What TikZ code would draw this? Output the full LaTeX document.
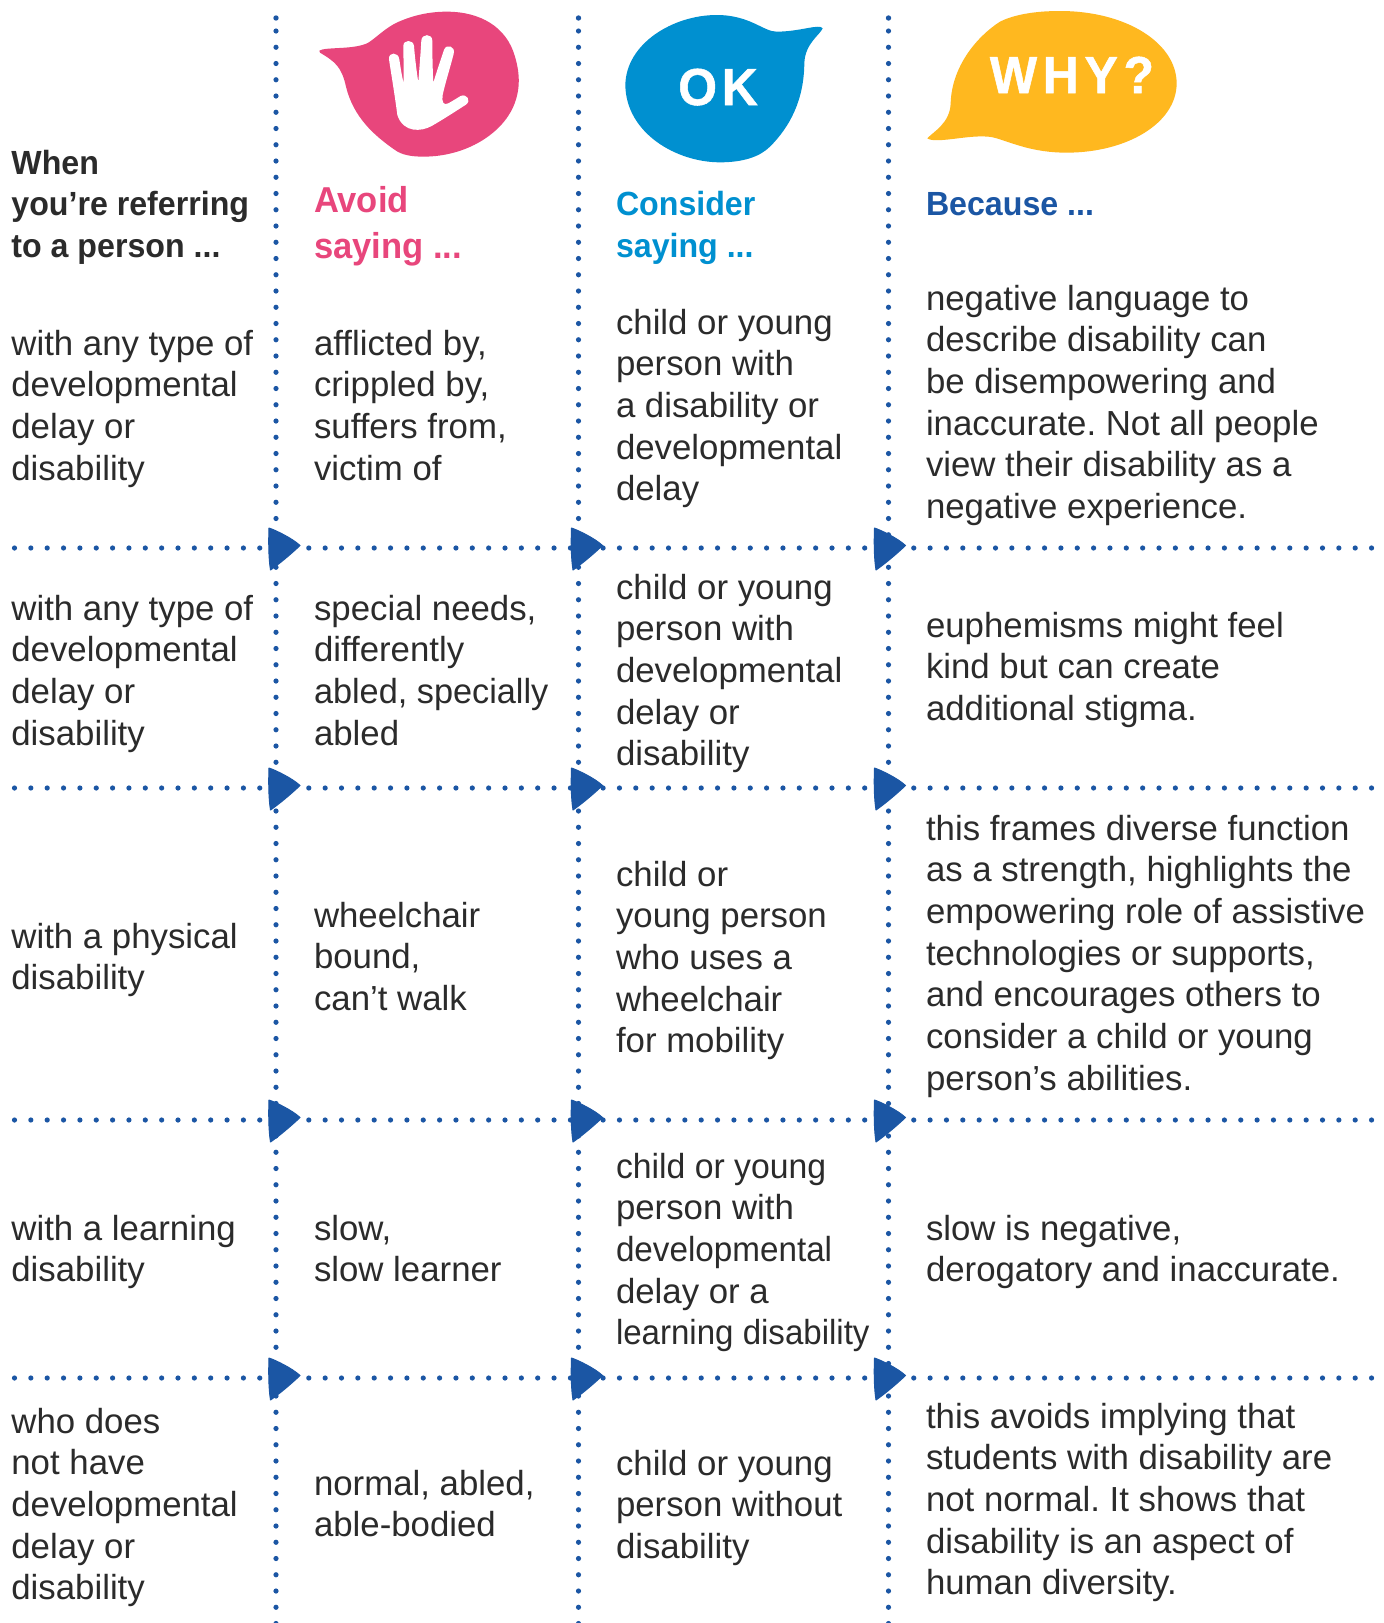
\documentclass[tikz,border=0pt]{standalone}
\usepackage{fontspec}
\setmainfont{Liberation Sans}[BoldFeatures={FakeStretch=0.96}]
\frenchspacing
\definecolor{dotblue}{HTML}{1B56A4}
\definecolor{pinkc}{HTML}{E8467C}
\definecolor{okblue}{HTML}{0090D0}
\definecolor{whyyel}{HTML}{FFB81F}
\definecolor{ink}{HTML}{2B2B2B}
\newcommand{\bigsize}{\fontsize{34.8}{41.7}\selectfont}
\newcommand{\headsize}{\fontsize{33.5}{41.7}\selectfont\bfseries}
\newcommand{\pinksize}{\fontsize{36}{46}\selectfont\bfseries}
\tikzset{
  txt/.style={anchor=base west,inner sep=0pt,outer sep=0pt,align=left,text=ink,font=\bigsize},
  headtxt/.style={txt,font=\headsize},
  nl/.style={yshift=-#1*41.7pt},
  vdots/.style={draw=dotblue,line width=5.2pt,line cap=round,dash pattern=on 0pt off 16.25pt},
  hdots/.style={draw=dotblue,line width=5.2pt,line cap=round,dash pattern=on 0pt off 16.35pt},
  arrowmark/.style={fill=dotblue,draw=dotblue,line width=1pt,line join=round},
  bubbletxt/.style={anchor=base,inner sep=0pt,text=white,font=\fontsize{52}{52}\selectfont\bfseries}
}
\begin{document}
\frenchspacing
\begin{tikzpicture}[x=1pt,y=-1pt]
\useasboundingbox (0,0) rectangle (1384,1623);
\fill[white] (0,0) rectangle (1384,1623);
% dotted grid
\foreach \xx in {276,578.5,888.5}{
  \draw[vdots] (\xx,31) -- (\xx,1625);
  \fill[dotblue] (\xx,18) circle (2.7pt);
}
\foreach \yy in {548,788,1120,1378}{
  \draw[hdots] (14.5,\yy) -- (1375,\yy);
}
% arrowheads
\foreach \xx in {276,578.5,881.5}{
  \foreach \yy in {548,788,1120,1378}{
    \filldraw[arrowmark,shift={(\xx,\yy)}] (-7,-20) .. controls (-1,-18) and (16,-10) .. (24,-2.5)
      .. controls (14,7) and (3,16) .. (-5.5,22) .. controls (-7.5,10) and (-7.5,-8) .. cycle;
  }
}
% pink bubble
\begin{scope}[shift={(280,0)},x=0.3333pt,y=-0.3333pt]
\fill[pinkc] (118,152) .. controls (135,140) and (225,150) .. (265,128) .. controls (290,112) and (315,85) .. (350,68)
 .. controls (400,45) and (450,35) .. (500,35) .. controls (600,35) and (680,80) .. (705,170)
 .. controls (720,220) and (722,270) .. (700,320) .. controls (665,400) and (560,470) .. (430,470)
 .. controls (395,470) and (365,465) .. (345,450) .. controls (280,405) and (220,350) .. (198,260)
 .. controls (185,200) and (165,185) .. (120,158) -- cycle;
\fill[white] (352,345) .. controls (345,290) and (335,230) .. (327,178)
 .. controls (325,155) and (355,155) .. (358,178) .. controls (362,205) and (366,230) .. (371,250)
 .. controls (372,210) and (370,170) .. (370,138) .. controls (370,118) and (400,118) .. (402,138)
 .. controls (405,175) and (410,215) .. (415,247) .. controls (418,205) and (422,160) .. (424,122)
 .. controls (425,100) and (457,100) .. (457,122) .. controls (457,165) and (458,210) .. (460,248)
 .. controls (470,215) and (482,180) .. (492,150) .. controls (498,130) and (528,138) .. (521,162)
 .. controls (510,205) and (497,245) .. (488,285) .. controls (485,305) and (490,318) .. (505,310)
 .. controls (518,303) and (530,295) .. (542,288) .. controls (560,280) and (575,302) .. (558,314)
 .. controls (525,335) and (490,358) .. (455,378) .. controls (425,395) and (370,400) .. (352,345) -- cycle;
\end{scope}
% OK bubble
\begin{scope}[shift={(600,0)},x=0.3333pt,y=-0.3333pt]
\fill[okblue] (668,85) .. controls (660,70) and (600,95) .. (530,95) .. controls (490,95) and (450,45) .. (350,45)
 .. controls (220,45) and (78,130) .. (76,255) .. controls (78,400) and (230,487) .. (360,487)
 .. controls (430,487) and (480,470) .. (510,440) .. controls (570,380) and (612,300) .. (613,190)
 .. controls (615,130) and (660,105) .. (668,85) -- cycle;
\end{scope}
% WHY bubble
\begin{scope}[shift={(900,0)},x=0.3333pt,y=-0.3333pt]
\fill[whyyel] (82,415) .. controls (100,395) and (150,370) .. (152,310) .. controls (155,200) and (230,110) .. (300,65)
 .. controls (350,40) and (420,33) .. (480,33) .. controls (680,33) and (830,130) .. (830,250)
 .. controls (830,370) and (680,458) .. (500,458) .. controls (400,458) and (340,430) .. (290,415)
 .. controls (230,395) and (110,435) .. (82,415) -- cycle;
\end{scope}
\node[bubbletxt] (oktext) at (718,105) {\addfontfeature{LetterSpace=9,FakeBold=1}OK};
\node[bubbletxt] (whytext) at (1072,93) {\addfontfeature{LetterSpace=11,FakeBold=1}WHY?};
% headers
\node[headtxt,nl=2] (h1) at (11.4,174) {When\\you’re referring\\to a person ...};
\node[headtxt,font=\pinksize,text=pinkc,yshift=-46pt] (h2) at (314,212) {Avoid\\saying ...};
\node[headtxt,text=okblue,nl=1] (h3) at (616,215.5) {Consider\\saying ...};
\node[headtxt,text=dotblue] (h4) at (926,215.5) {Because ...};
% column 1
\node[txt,nl=3] (a1) at (11.4,355) {with any type of\\developmental\\delay or\\disability};
\node[txt,nl=3] (a2) at (11.4,620) {with any type of\\developmental\\delay or\\disability};
\node[txt,nl=1] (a3) at (11.4,948) {with a physical\\disability};
\node[txt,nl=1] (a4) at (11.4,1240) {with a learning\\disability};
\node[txt,nl=4] (a5) at (11.4,1433) {who does\\not have\\developmental\\delay or\\disability};
% column 2
\node[txt,nl=3] (b1) at (314,355) {afflicted by,\\crippled by,\\suffers from,\\victim of};
\node[txt,nl=3] (b2) at (314,620) {special needs,\\differently\\{\addfontfeature{FakeStretch=0.985}abled, specially}\\abled};
\node[txt,nl=2] (b3) at (314,927) {wheelchair\\bound,\\can’t walk};
\node[txt,nl=1] (b4) at (314,1240) {slow,\\slow learner};
\node[txt,nl=1] (b5) at (314,1495) {normal, abled,\\able-bodied};
% column 3
\node[txt,nl=4] (c1) at (616,334) {child or young\\person with\\a disability or\\developmental\\delay};
\node[txt,nl=4] (c2) at (616,599) {child or young\\person with\\developmental\\delay or\\disability};
\node[txt,nl=4] (c3) at (616,886) {child or\\young person\\who uses a\\wheelchair\\for mobility};
\node[txt,nl=4] (c4) at (616,1178) {{\addfontfeature{FakeStretch=0.97}child or young}\\person with\\{\addfontfeature{FakeStretch=0.955}developmental}\\delay or a\\{\addfontfeature{FakeStretch=0.95}learning disability}};
\node[txt,nl=2] (c5) at (616,1475) {child or young\\person without\\disability};
% column 4
\node[txt,nl=5] (d1) at (926,310) {negative language to\\describe disability can\\be disempowering and\\inaccurate. Not all people\\view their disability as a\\negative experience.};
\node[txt,nl=2] (d2) at (926,637) {euphemisms might feel\\kind but can create\\additional stigma.};
\node[txt,nl=6] (d3) at (926,840) {this frames diverse function\\as a strength, highlights the\\empowering role of assistive\\technologies or supports,\\and encourages others to\\consider a child or young\\person’s abilities.};
\node[txt,nl=1] (d4) at (926,1240) {slow is negative,\\derogatory and inaccurate.};
\node[txt,nl=4] (d5) at (926,1428) {this avoids implying that\\students with disability are\\not normal. It shows that\\disability is an aspect of\\human diversity.};
\end{tikzpicture}
\end{document}
